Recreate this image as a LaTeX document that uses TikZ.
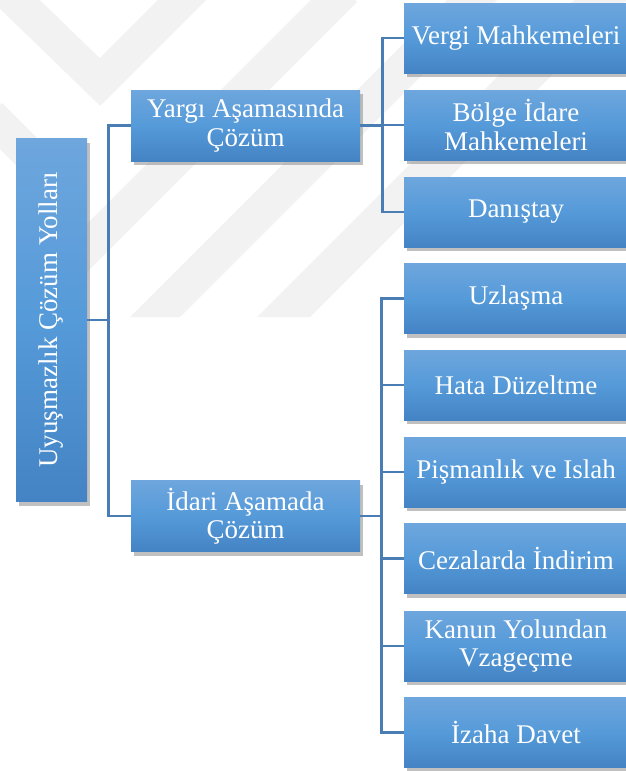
\documentclass[tikz,border=0pt]{standalone}
\usepackage{fontspec}
\setmainfont{Liberation Serif}
\usetikzlibrary{shadows,calc}
\definecolor{boxtop}{HTML}{6EA6DD}
\definecolor{boxmid}{HTML}{559AD9}
\definecolor{boxbot}{HTML}{4483C4}
\definecolor{connc}{HTML}{4A7DB4}
\definecolor{wm}{HTML}{F2F2F2}
\tikzset{
  boxfont/.style={font=\fontsize{27}{28.5}\selectfont},
  box/.style={rectangle, top color=boxtop, bottom color=boxbot, middle color=boxmid,
    text=white, boxfont, align=center, inner sep=0pt,
    drop shadow={shadow xshift=3pt, shadow yshift=-4pt, fill=black!45, opacity=0.55}},
  rbox/.style={box, minimum width=224pt, minimum height=70pt},
  mbox/.style={box, minimum width=229pt, minimum height=71pt},
  conn/.style={draw=connc, line width=2.6pt},
  wmband/.style={draw=wm, line width=34pt}
}
\begin{document}
\begin{tikzpicture}[x=1pt,y=-1pt]
\useasboundingbox (0,0) rectangle (626,771);
% faint watermark bands
\draw[wmband] (5,-10) -- (100,82) -- (195,-13);
\draw[wmband] (345,-10) -- (40,295);
\draw[wmband] (-10,115) -- (60,185);
\fill[wm] (130,317) -- (180,317) -- (497,0) -- (447,0) -- cycle;
\fill[wm] (257,317) -- (310,317) -- (627,0) -- (574,0) -- cycle;

% nodes
\node[box, minimum width=71pt, minimum height=363pt] (root) at (51.5,320) {};
\node[rotate=90, text=white, boxfont] (roottext) at (root.center) {Uyuşmazlık Çözüm Yolları};

\node[mbox] (yargi) at (245.5,125.5) {Yargı Aşamasında\\Çözüm};
\node[mbox] (idari) at (245.5,516) {İdari Aşamada\\Çözüm};

\node[rbox] (v1) at (516,38) {Vergi Mahkemeleri};
\node[rbox] (v2) at (516,125) {Bölge İdare\\Mahkemeleri};
\node[rbox] (v3) at (516,212) {Danıştay};

\node[rbox] (i1) at (516,298.5) {Uzlaşma};
\node[rbox] (i2) at (516,385) {Hata Düzeltme};
\node[rbox] (i3) at (516,472) {Pişmanlık ve Islah};
\node[rbox] (i4) at (516,558.5) {Cezalarda İndirim};
\node[rbox] (i5) at (516,646) {Kanun Yolundan\\Vzageçme};
\node[rbox] (i6) at (516,732.5) {İzaha Davet};

% connectors
\draw[conn] (root.east) -- ++(21,0) |- (yargi.west);
\draw[conn] (root.east) -- ++(21,0) |- (idari.west);
\foreach \c in {v1,v2,v3}
  \draw[conn] (yargi.east) -- ++(22,0) |- (\c.west);
\foreach \c in {i1,i2,i3,i4,i5,i6}
  \draw[conn] (idari.east) -- ++(21,0) |- (\c.west);
\end{tikzpicture}
\end{document}
